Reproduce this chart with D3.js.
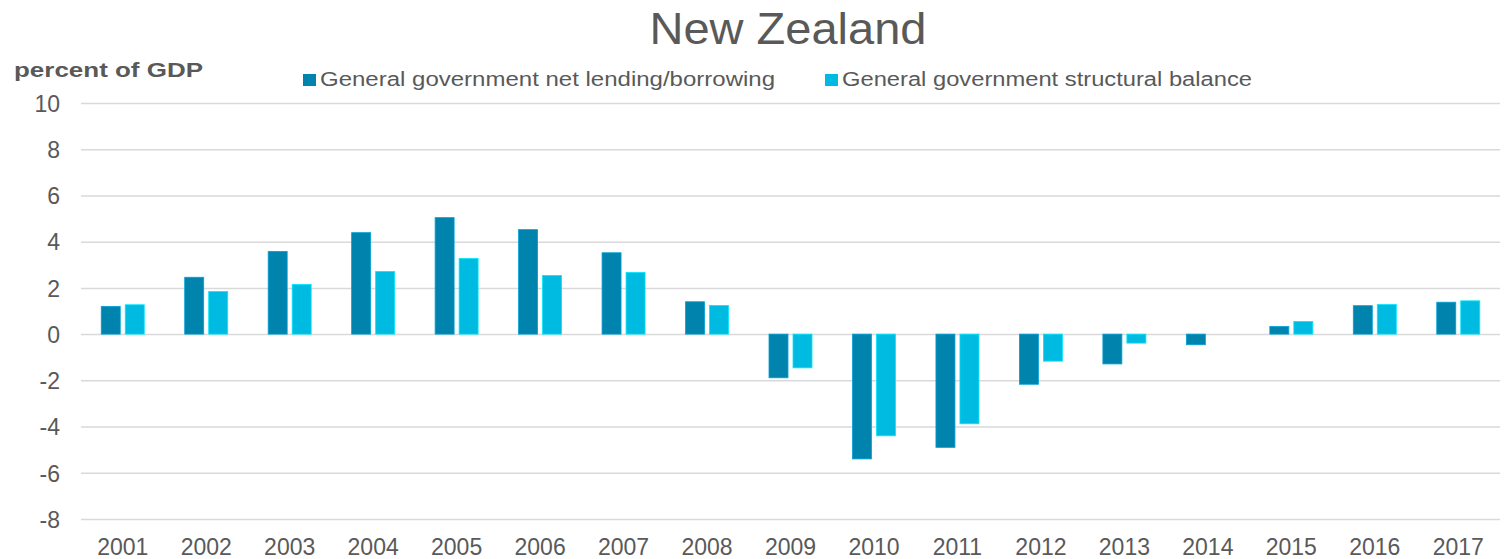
<!DOCTYPE html>
<html>
<head>
<meta charset="utf-8">
<script src="https://cdn.jsdelivr.net/npm/d3@7/dist/d3.min.js"></script>
<style>
  html, body { margin: 0; padding: 0; background: #fff; }
  svg { display: block; font-family: "Liberation Sans", Arial, sans-serif; }
</style>
</head>
<body>
<svg id="chart" width="1506" height="559"></svg>
<script>
const years = ["2001","2002","2003","2004","2005","2006","2007","2008","2009","2010","2011","2012","2013","2014","2015","2016","2017"];
const netLending = [1.2, 2.46, 3.58, 4.39, 5.04, 4.52, 3.52, 1.4, -1.89, -5.4, -4.9, -2.17, -1.29, -0.46, 0.33, 1.23, 1.38];
const structural = [1.27, 1.84, 2.15, 2.71, 3.27, 2.54, 2.67, 1.24, -1.46, -4.4, -3.88, -1.17, -0.39, 0, 0.55, 1.28, 1.44];
const yTicks = [-8, -6, -4, -2, 0, 2, 4, 6, 8, 10];
const seriesNames = ["General government net lending/borrowing", "General government structural balance"];
const seriesColors = ["#0083ad", "#00bbe1"];

const svg = d3.select("#chart");
const textColor = "#595959";
const fontFamily = "Liberation Sans, Arial, sans-serif";
const plotLeft = 81, plotRight = 1500, plotTop = 103, plotBottom = 519;

const x = d3.scaleBand().domain(years).range([plotLeft, plotRight]);
const y = d3.scaleLinear().domain([-8, 10]).range([plotBottom, plotTop]);
const barW = 19, gap = 5;

// Title
svg.append("text")
  .attr("x", 788).attr("y", 44)
  .attr("text-anchor", "middle")
  .attr("font-size", 45)
  .attr("textLength", 277).attr("lengthAdjust", "spacingAndGlyphs")
  .attr("fill", textColor)
  .text("New Zealand");

// Axis caption
svg.append("text")
  .attr("x", 14).attr("y", 77)
  .attr("font-size", 21).attr("font-weight", "bold")
  .attr("textLength", 189).attr("lengthAdjust", "spacingAndGlyphs")
  .attr("fill", textColor)
  .text("percent of GDP");

// Gridlines + y tick labels
const yAxis = d3.axisLeft(y).tickValues(yTicks).tickSize(-(plotRight - plotLeft)).tickFormat(d => String(d));
const gy = svg.append("g").attr("transform", `translate(${plotLeft},0)`).call(yAxis);
gy.select(".domain").remove();
gy.selectAll(".tick line").attr("stroke", "#d9d9d9").attr("stroke-width", 1.5);
gy.selectAll(".tick text").attr("font-size", 23).attr("fill", textColor)
  .attr("font-family", fontFamily).attr("x", -21).attr("dy", "0.36em");

// X labels
const xAxis = d3.axisBottom(x).tickSize(0).tickPadding(0);
const gx = svg.append("g").attr("transform", `translate(0,${plotBottom})`).call(xAxis);
gx.select(".domain").remove();
gx.selectAll(".tick text").attr("font-size", 23).attr("fill", textColor)
  .attr("font-family", fontFamily)
  .attr("dy", 0).attr("y", 36);

// Bars
const series = [netLending, structural];
series.forEach((vals, si) => {
  svg.append("g").selectAll("rect")
    .data(years.map((yr, i) => ({ yr, v: vals[i] })))
    .join("rect")
    .attr("x", d => x(d.yr) + x.bandwidth() / 2 + (si === 0 ? -gap / 2 - barW : gap / 2))
    .attr("width", barW)
    .attr("y", d => y(Math.max(0, d.v)))
    .attr("height", d => Math.abs(y(d.v) - y(0)))
    .attr("fill", seriesColors[si])
    .attr("stroke", d3.color(seriesColors[si]).brighter(0.6))
    .attr("stroke-width", d => d.v === 0 ? 0 : 0.8);
});

// Legend
const legendItems = [{ x: 303, len: 455, name: seriesNames[0], color: seriesColors[0] },
                     { x: 825, len: 410, name: seriesNames[1], color: seriesColors[1] }];
legendItems.forEach(it => {
  svg.append("rect").attr("x", it.x).attr("y", 74).attr("width", 13).attr("height", 12).attr("fill", it.color);
  svg.append("text").attr("x", it.x + 17).attr("y", 86)
    .attr("font-size", 20)
    .attr("textLength", it.len).attr("lengthAdjust", "spacingAndGlyphs")
    .attr("fill", textColor).text(it.name);
});
</script>
</body>
</html>
